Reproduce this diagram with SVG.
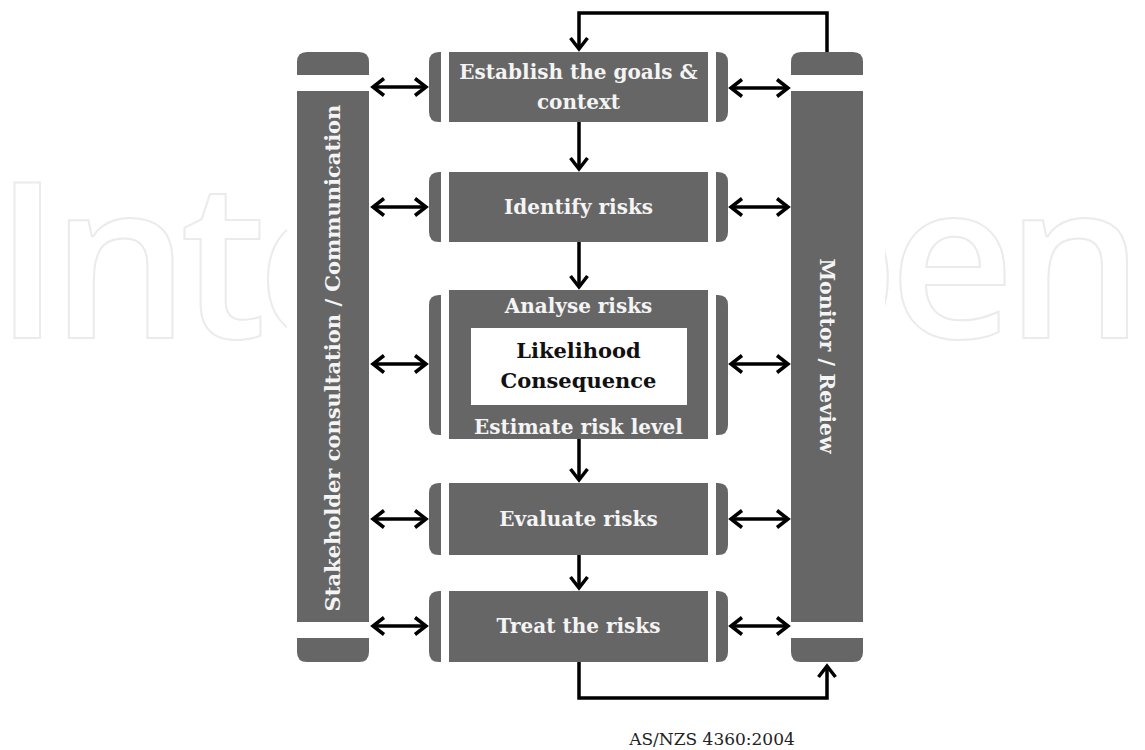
<svg xmlns="http://www.w3.org/2000/svg" width="1145" height="750" viewBox="0 0 1145 750">
<style>
.box{fill:#666666}
.lbl{font-family:"DejaVu Serif","Liberation Serif",serif;font-weight:bold;font-size:20px;fill:#f4f4f4;text-anchor:middle}
.inner{font-family:"DejaVu Serif","Liberation Serif",serif;font-weight:bold;font-size:21px;fill:#111111;text-anchor:middle}
.con{fill:none;stroke:#000000;stroke-width:3.5;stroke-linejoin:miter}
.wm{font-family:"Open Sans","DejaVu Sans",sans-serif;font-weight:600;font-size:218px;fill:none;stroke:#ebebeb;stroke-width:2}
.src{font-family:"DejaVu Serif","Liberation Serif",serif;font-size:17px;fill:#222222;text-anchor:middle}
</style>
<defs>
<marker id="ah" markerUnits="userSpaceOnUse" viewBox="-14 -11 17 22" refX="0" refY="0" markerWidth="17" markerHeight="22" orient="auto-start-reverse">
<path d="M-11,-8.5 L0,0 L-11,8.5" fill="none" stroke="#000000" stroke-width="3.5" stroke-linejoin="miter"/>
</marker>
</defs>
<rect x="0" y="0" width="1145" height="750" fill="#ffffff"/>
<g id="watermark">
<text class="wm" x="-6" y="338" textLength="1150" lengthAdjust="spacing">IntechOpen</text>
</g>
<rect x="287" y="0" width="598" height="750" fill="#ffffff"/>

<g id="stakeholder">
<path class="box" d="M297,75 V62 Q297,52 307,52 H359 Q369,52 369,62 V75 Z"/>
<rect class="box" x="297" y="91" width="72" height="531"/>
<path class="box" d="M297,638 H369 V652 Q369,662 359,662 H307 Q297,662 297,652 Z"/>
<text class="lbl" transform="translate(340,358) rotate(-90)" x="0" y="0" style="font-size:21px">Stakeholder consultation / Communication</text>
</g>

<g id="monitor">
<path class="box" d="M791,75 V62 Q791,52 801,52 H853 Q863,52 863,62 V75 Z"/>
<rect class="box" x="791" y="91" width="72" height="531"/>
<path class="box" d="M791,638 H863 V652 Q863,662 853,662 H801 Q791,662 791,652 Z"/>
<text class="lbl" transform="translate(820,356) rotate(90)" x="0" y="0" style="font-size:20.5px">Monitor / Review</text>
</g>

<g id="establish">
<path class="box" d="M441,52 V122 H439 Q429,122 429,112 V62 Q429,52 439,52 Z"/>
<rect class="box" x="449" y="52" width="259" height="70"/>
<path class="box" d="M716,52 H718 Q728,52 728,62 V112 Q728,122 718,122 H716 Z"/>
<text class="lbl" x="578.5" y="79">Establish the goals &amp;</text>
<text class="lbl" x="578.5" y="109">context</text>
</g>

<g id="identify">
<path class="box" d="M441,172 V242 H439 Q429,242 429,232 V182 Q429,172 439,172 Z"/>
<rect class="box" x="449" y="172" width="259" height="70"/>
<path class="box" d="M716,172 H718 Q728,172 728,182 V232 Q728,242 718,242 H716 Z"/>
<text class="lbl" x="578.5" y="214">Identify risks</text>
</g>

<g id="analyse">
<path class="box" d="M441,295 V435 H439 Q429,435 429,425 V305 Q429,295 439,295 Z"/>
<rect class="box" x="449" y="290" width="259" height="149"/>
<path class="box" d="M716,295 H718 Q728,295 728,305 V425 Q728,435 718,435 H716 Z"/>
<rect x="471" y="328" width="216" height="77" fill="#ffffff"/>
<text class="lbl" x="578.5" y="313">Analyse risks</text>
<text class="inner" x="578.5" y="358">Likelihood</text>
<text class="inner" x="578.5" y="388">Consequence</text>
<text class="lbl" x="578.5" y="434">Estimate risk level</text>
</g>

<g id="evaluate">
<path class="box" d="M441,483 V555 H439 Q429,555 429,545 V493 Q429,483 439,483 Z"/>
<rect class="box" x="449" y="483" width="259" height="72"/>
<path class="box" d="M716,483 H718 Q728,483 728,493 V545 Q728,555 718,555 H716 Z"/>
<text class="lbl" x="578.5" y="526">Evaluate risks</text>
</g>

<g id="treat">
<path class="box" d="M441,591 V662 H439 Q429,662 429,652 V601 Q429,591 439,591 Z"/>
<rect class="box" x="449" y="591" width="259" height="71"/>
<path class="box" d="M716,591 H718 Q728,591 728,601 V652 Q728,662 718,662 H716 Z"/>
<text class="lbl" x="578.5" y="633">Treat the risks</text>
</g>

<g id="connectors">
<path class="con" d="M373,87 H426" marker-start="url(#ah)" marker-end="url(#ah)"/>
<path class="con" d="M373,207 H426" marker-start="url(#ah)" marker-end="url(#ah)"/>
<path class="con" d="M373,364 H426" marker-start="url(#ah)" marker-end="url(#ah)"/>
<path class="con" d="M373,519 H426" marker-start="url(#ah)" marker-end="url(#ah)"/>
<path class="con" d="M373,626 H426" marker-start="url(#ah)" marker-end="url(#ah)"/>
<path class="con" d="M731,88 H788" marker-start="url(#ah)" marker-end="url(#ah)"/>
<path class="con" d="M731,207 H788" marker-start="url(#ah)" marker-end="url(#ah)"/>
<path class="con" d="M731,364 H788" marker-start="url(#ah)" marker-end="url(#ah)"/>
<path class="con" d="M731,519 H788" marker-start="url(#ah)" marker-end="url(#ah)"/>
<path class="con" d="M731,626 H788" marker-start="url(#ah)" marker-end="url(#ah)"/>
<path class="con" d="M579,122 V169" marker-end="url(#ah)"/>
<path class="con" d="M579,242 V287" marker-end="url(#ah)"/>
<path class="con" d="M579,439 V480" marker-end="url(#ah)"/>
<path class="con" d="M579,555 V588" marker-end="url(#ah)"/>
<path class="con" d="M827,52 V13 H579 V49" marker-end="url(#ah)"/>
<path class="con" d="M579,662 V698 H827 V666" marker-end="url(#ah)"/>
</g>

<g id="source">
<text class="src" x="712" y="745">AS/NZS 4360:2004</text>
</g>
</svg>
